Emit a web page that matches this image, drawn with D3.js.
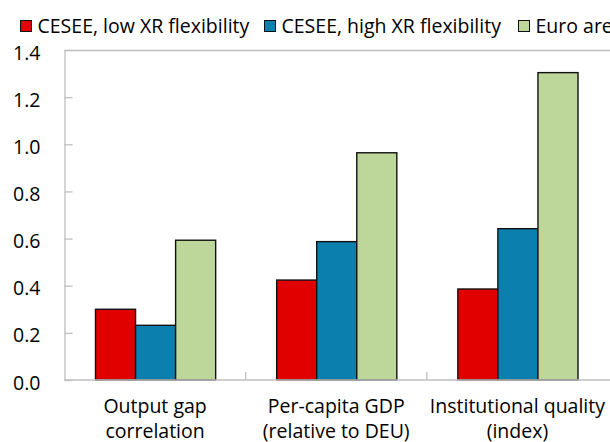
<!DOCTYPE html>
<html>
<head>
<meta charset="utf-8">
<script src="https://cdn.jsdelivr.net/npm/d3@7"></script>
<style>
  html, body { margin: 0; padding: 0; background: #fff; }
  svg { display: block; }
  text { font-family: 'Open Sans', 'Noto Sans', sans-serif; fill: #000; font-size: 19.5px; }
</style>
</head>
<body>
<div id="chart"></div>
<script>
const categories = [
  ['Output gap', 'correlation'],
  ['Per-capita GDP', '(relative to DEU)'],
  ['Institutional quality', '(index)']
]
const seriesNames = ['CESEE, low XR flexibility', 'CESEE, high XR flexibility', 'Euro area']
const seriesColors = ['#E00000', '#0B80AF', '#BDD79B']
const lowXR = [0.30, 0.424, 0.386]
const highXR = [0.232, 0.587, 0.642]
const euroArea = [0.593, 0.964, 1.304]
const yTicks = [0, 0.2, 0.4, 0.6, 0.8, 1.0, 1.2, 1.4]

const series = [lowXR, highXR, euroArea]

const width = 610
const height = 442
const plotLeft = 64.5, plotRight = 608, plotTop = 50, plotBottom = 380

const svg = d3.select('#chart')
  .append('svg')
  .attr('width', width)
  .attr('height', height)

const x0 = d3.scaleBand()
  .domain(d3.range(categories.length))
  .range([plotLeft, plotRight])

const x1 = d3.scaleBand()
  .domain(d3.range(series.length))
  .range([31, x0.bandwidth() - 30])

const y = d3.scaleLinear()
  .domain([0, 1.4])
  .range([plotBottom, plotTop])

// top border line in grey
const grey = '#BFBFBF'
svg.append('line')
  .attr('x1', plotLeft).attr('x2', width).attr('y1', plotTop + 0.5).attr('y2', plotTop + 0.5)
  .attr('stroke', grey).attr('stroke-width', 1.3)

// y axis, ticks pointing inward
const yAxis = svg.append('g')
  .attr('transform', `translate(${plotLeft},0)`)
  .call(d3.axisRight(y).tickValues(yTicks).tickSize(8).tickSizeOuter(0).tickFormat(''))
yAxis.selectAll('path, line').attr('stroke', grey).attr('stroke-width', 1.3)

svg.append('g')
  .selectAll('text')
  .data(yTicks)
  .enter()
  .append('text')
  .attr('x', 40.5)
  .attr('y', d => y(d) + 2.5)
  .attr('dy', '0.36em')
  .attr('text-anchor', 'end')
  .text(d => d.toFixed(1))

// bars
const groups = svg.append('g')
  .selectAll('g')
  .data(categories)
  .enter()
  .append('g')
  .attr('transform', (d, i) => `translate(${x0(i)},0)`)

groups.selectAll('rect')
  .data((d, i) => series.map((s, j) => ({ s: j, v: s[i] })))
  .enter()
  .append('rect')
  .attr('x', d => x1(d.s))
  .attr('width', x1.bandwidth())
  .attr('y', d => y(d.v))
  .attr('height', d => y(0) - y(d.v))
  .attr('fill', d => seriesColors[d.s])
  .attr('stroke', '#111')
  .attr('stroke-width', 1.4)

// x axis
const xAxis = svg.append('g')
  .attr('transform', `translate(0,${plotBottom})`)
xAxis.append('line')
  .attr('x1', plotLeft).attr('x2', width)
  .attr('stroke', grey).attr('stroke-width', 1.5)
xAxis.selectAll('.sep')
  .data(d3.range(1, categories.length))
  .enter()
  .append('line')
  .attr('class', 'sep')
  .attr('x1', i => x0(i)).attr('x2', i => x0(i))
  .attr('y1', 0).attr('y2', -8)
  .attr('stroke', grey).attr('stroke-width', 1.3)

const labels = svg.append('g')
  .selectAll('text')
  .data(categories)
  .enter()
  .append('text')
  .attr('text-anchor', 'middle')
labels.selectAll('tspan')
  .data((d, i) => d.map(t => ({ t, i })))
  .enter()
  .append('tspan')
  .attr('x', d => x0(d.i) + x0.bandwidth() / 2)
  .attr('y', (d, k) => 413 + k * 24.5)
  .text(d => d.t)

// legend
const legendX = [20.5, 264.5, 518.5]
const legend = svg.append('g')
  .selectAll('g')
  .data(seriesNames)
  .enter()
  .append('g')
  .attr('transform', (d, i) => `translate(${legendX[i]},0)`)
legend.append('rect')
  .attr('x', 0).attr('y', 20.5)
  .attr('width', 11).attr('height', 11)
  .attr('fill', (d, i) => seriesColors[i])
  .attr('stroke', '#111')
  .attr('stroke-width', 1)
legend.append('text')
  .attr('x', 17)
  .attr('y', 33)
  .text(d => d)
</script>
</body>
</html>
